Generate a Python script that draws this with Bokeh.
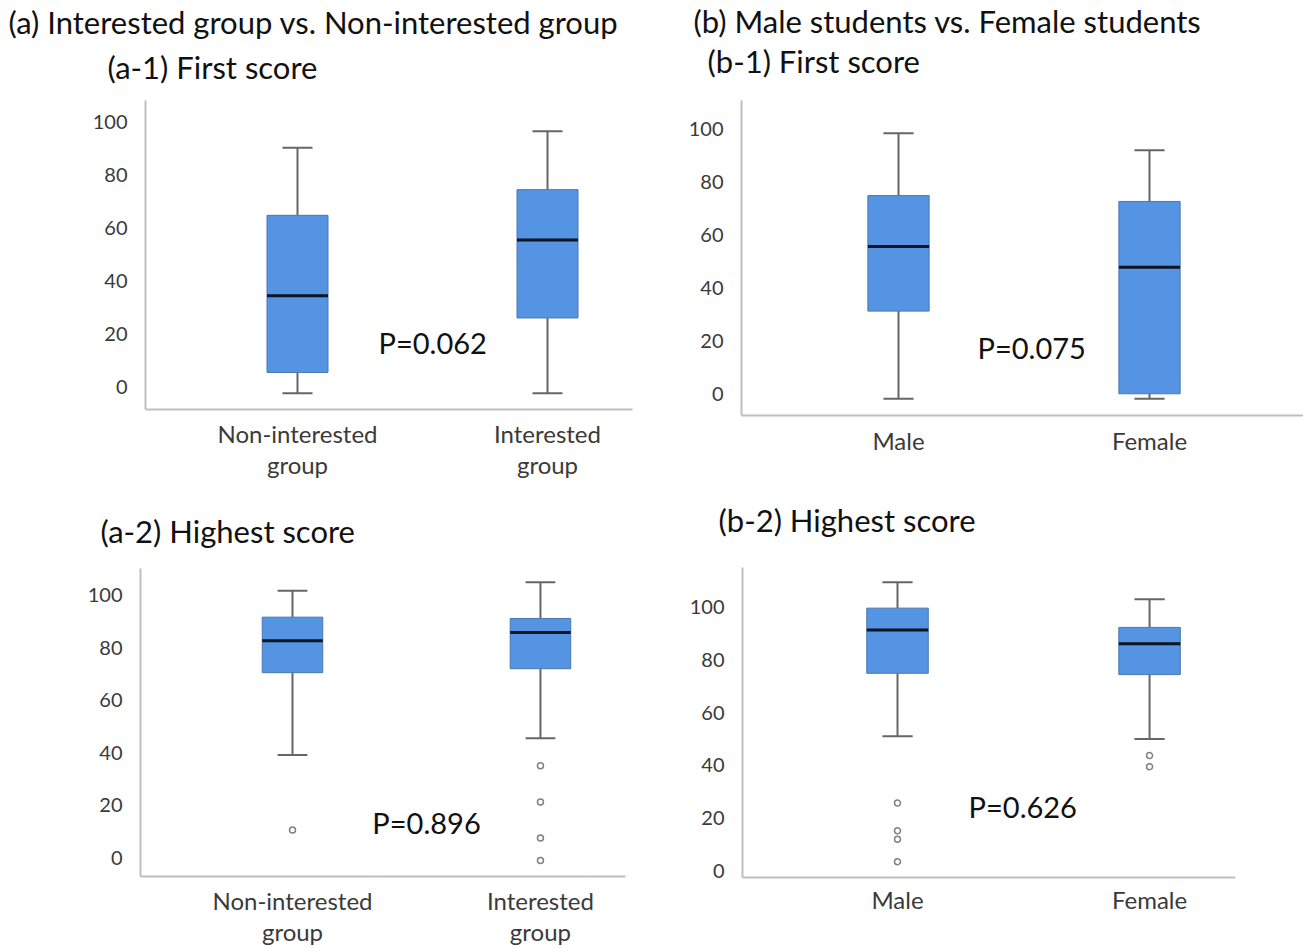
from bokeh.plotting import figure
from bokeh.models import Range1d, FixedTicker, Label, ColumnDataSource
from bokeh.layouts import row, column
from bokeh.embed import file_html
from bokeh.resources import INLINE

# ---------------- data ----------------
groups_a = ["Non-interested\ngroup", "Interested\ngroup"]
groups_b = ["Male", "Female"]
y_ticks = [0, 20, 40, 60, 80, 100]

title_a = "(a)  Interested group vs. Non-interested group"
title_b = "(b)  Male students vs. Female students"
title_a1 = "(a-1) First score"
title_b1 = "(b-1) First score"
title_a2 = "(a-2) Highest score"
title_b2 = "(b-2) Highest score"

# (a-1) First score: interested vs non-interested
a1_low = [-2.5, -2.5]
a1_q1 = [5.4, 26.0]
a1_median = [34.4, 55.5]
a1_q3 = [64.8, 74.5]
a1_high = [90.3, 96.6]
a1_outliers = [[], []]
a1_p = "P=0.062"

# (b-1) First score: male vs female
b1_low = [-1.9, -1.9]
b1_q1 = [31.2, 0.0]
b1_median = [55.6, 47.8]
b1_q3 = [74.8, 72.6]
b1_high = [98.3, 91.9]
b1_outliers = [[], []]
b1_p = "P=0.075"

# (a-2) Highest score: interested vs non-interested
a2_low = [39.2, 45.6]
a2_q1 = [70.5, 72.0]
a2_median = [82.6, 85.8]
a2_q3 = [91.6, 91.1]
a2_high = [101.6, 104.9]
a2_outliers = [[10.7], [35.1, 21.3, 7.6, -0.9]]
a2_p = "P=0.896"

# (b-2) Highest score: male vs female
b2_low = [51.0, 50.0]
b2_q1 = [74.9, 74.4]
b2_median = [91.3, 86.1]
b2_q3 = [99.6, 92.3]
b2_high = [109.4, 103.0]
b2_outliers = [[25.7, 15.2, 12.0, 3.5], [43.7, 39.5]]
b2_p = "P=0.626"

# ---------------- style ----------------
FONT = "Lato"
BOX_FILL = "#5593E3"
BOX_LINE = "#4A78B0"
WHISKER = "#666666"
AXIS = "#BFBFBF"
LABEL = "#3A3A3A"
TITLE = "#111111"
BOX_W = 0.244
CAP_W = 0.12


def header(width, height, items):
    h = figure(width=width, height=height,
               x_range=Range1d(0, width), y_range=Range1d(0, height),
               x_axis_location=None, y_axis_location=None, min_border=0,
               output_backend="svg", toolbar_location=None)
    h.outline_line_color = None
    h.xgrid.visible = False
    h.ygrid.visible = False
    h.background_fill_color = "white"
    h.border_fill_color = "white"
    for text, x, yc in items:
        h.add_layout(Label(x=x, y=height - yc, text=text, text_font=FONT,
                           text_font_size="31px", text_color=TITLE,
                           text_align="left", text_baseline="middle"))
    return h


def panel(cats, low, q1, med, q3, high, outl, ptext, cfg):
    p = figure(width=cfg["w"], height=cfg["h"],
               x_range=Range1d(cfg["x0"], cfg["x1"]),
               y_range=Range1d(cfg["y0"], cfg["y1"]),
               min_border_left=cfg["bl"], min_border_right=cfg["br"],
               min_border_top=cfg["bt"], min_border_bottom=cfg["bb"],
               output_backend="svg", toolbar_location=None)
    p.outline_line_color = None
    p.xgrid.visible = False
    p.ygrid.visible = False
    p.background_fill_color = "white"
    p.border_fill_color = "white"

    xs = [i + 0.5 for i in range(len(cats))]
    src = ColumnDataSource(dict(
        x=xs, low=low, q1=q1, med=med, q3=q3, high=high,
        bl=[x - BOX_W / 2 for x in xs], br=[x + BOX_W / 2 for x in xs],
        cl=[x - CAP_W / 2 for x in xs], cr=[x + CAP_W / 2 for x in xs],
    ))
    p.segment(x0="x", y0="q3", x1="x", y1="high", source=src, line_color=WHISKER, line_width=2)
    p.segment(x0="x", y0="q1", x1="x", y1="low", source=src, line_color=WHISKER, line_width=2)
    p.segment(x0="cl", y0="high", x1="cr", y1="high", source=src, line_color=WHISKER, line_width=2)
    p.segment(x0="cl", y0="low", x1="cr", y1="low", source=src, line_color=WHISKER, line_width=2)
    p.vbar(x="x", width=BOX_W, bottom="q1", top="q3", source=src,
           fill_color=BOX_FILL, line_color=BOX_LINE, line_width=1)
    p.segment(x0="bl", y0="med", x1="br", y1="med", source=src, line_color="#0B1420", line_width=3)

    ox, oy = [], []
    for x, vals in zip(xs, outl):
        for v in vals:
            ox.append(x)
            oy.append(v)
    if ox:
        p.scatter(x=ox, y=oy, marker="circle", size=6, fill_color="white",
                  line_color="#808080", line_width=1.5)

    p.add_layout(Label(x=cfg["px"], y=cfg["py"], text=ptext, text_font=FONT,
                       text_font_size="29px", text_color=TITLE,
                       text_align="left", text_baseline="middle"))

    xa = p.xaxis[0]
    ya = p.yaxis[0]
    xa.ticker = FixedTicker(ticks=xs)
    xa.major_label_overrides = {x: c for x, c in zip(xs, cats)}
    ya.ticker = FixedTicker(ticks=y_ticks)
    for ax in (xa, ya):
        ax.axis_line_color = AXIS
        ax.axis_line_width = 2
        ax.major_tick_line_color = None
        ax.minor_tick_line_color = None
        ax.major_label_text_font = FONT
        ax.major_label_text_color = LABEL
    xa.major_label_text_font_size = "24px"
    xa.major_label_text_line_height = cfg["lh"]
    xa.major_label_standoff = cfg["xs"]
    ya.major_label_text_font_size = "20px"
    ya.major_label_standoff = 12
    return p


cfg_a1 = dict(w=660, h=402, x0=-0.108, x1=1.84, y0=-8.6, y1=108.2,
              bl=145, br=28, bt=12, bb=81, px=0.824, py=16.9, xs=3, lh=1.1)
cfg_b1 = dict(w=643, h=402, x0=-0.1255, x1=2.1135, y0=-8.2, y1=110.7,
              bl=81, br=0, bt=12, bb=75, px=0.815, py=17.6, xs=4, lh=1.1)
cfg_a2 = dict(w=660, h=398, x0=-0.113, x1=1.843, y0=-7.0, y1=110.1,
              bl=140, br=35, bt=18, bb=71, px=0.822, py=13.5, xs=3, lh=1.08)
cfg_b2 = dict(w=643, h=398, x0=-0.115, x1=1.841, y0=-2.5, y1=115.0,
              bl=82, br=68, bt=17, bb=71, px=0.782, py=24.3, xs=1, lh=1.1)

head1 = header(1303, 88, [(title_a, 8, 21), (title_a1, 107, 66),
                          (title_b, 693, 20), (title_b1, 707, 60)])
head2 = header(1303, 60, [(title_a2, 100, 40), (title_b2, 718, 29)])

a1 = panel(groups_a, a1_low, a1_q1, a1_median, a1_q3, a1_high, a1_outliers, a1_p, cfg_a1)
b1 = panel(groups_b, b1_low, b1_q1, b1_median, b1_q3, b1_high, b1_outliers, b1_p, cfg_b1)
a2 = panel(groups_a, a2_low, a2_q1, a2_median, a2_q3, a2_high, a2_outliers, a2_p, cfg_a2)
b2 = panel(groups_b, b2_low, b2_q1, b2_median, b2_q3, b2_high, b2_outliers, b2_p, cfg_b2)

layout = column(head1, row(column(a1), column(b1)), head2, row(column(a2), column(b2)))
open("out.html", "w").write(file_html(layout, INLINE))
